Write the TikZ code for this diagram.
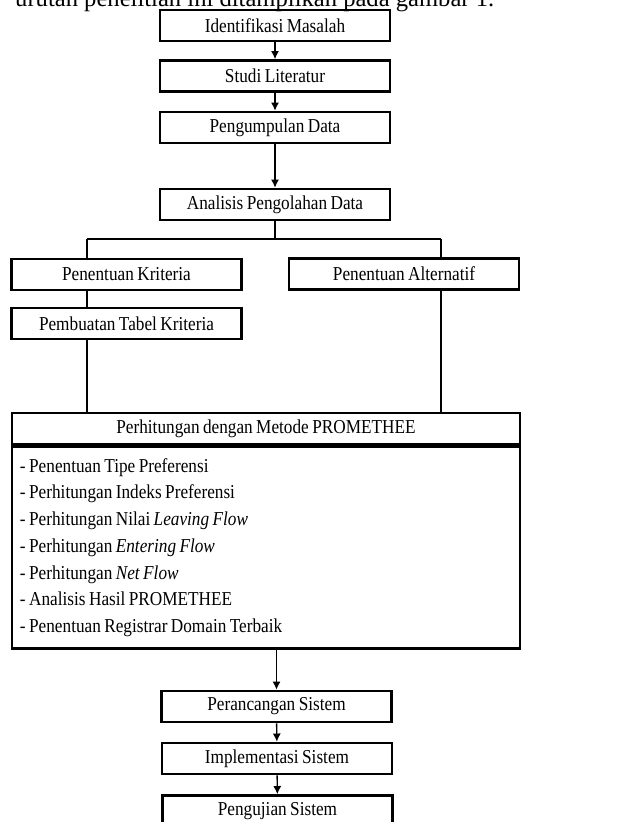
\documentclass[tikz,border=0pt]{standalone}
\usepackage{fontspec}
\setmainfont{Liberation Serif}[FakeStretch=0.875, WordSpace=0.8]
\newfontfamily\captfont{Liberation Serif}
\usetikzlibrary{arrows.meta}
\tikzset{
    box/.style={draw, line width=2.2pt, minimum width=6.9cm, minimum height=0.93cm,
        inner sep=0pt, font=\fontsize{16.8}{22.8}\selectfont},
    link/.style={line width=1.2pt},
}
\begin{document}
\begin{tikzpicture}[x=0.03cm, y=-0.03cm, >={Latex[length=7pt,width=7pt]}]
        \useasboundingbox (0,0) rectangle (639,822);
        \clip (0,0) rectangle (639,822);
        % caption line cut off by the page
        \node[anchor=base west, inner sep=0pt, font=\captfont\fontsize{21}{25}\selectfont] (intro)
            at (15,7) {urutan penelitian ini ditampilkan pada gambar 1.};
        % main column
        \node[box] (ident) at (275,25.5) {Identifikasi Masalah};
        \node[box] (studi) at (275,76) {Studi Literatur};
        \node[box] (kumpul) at (275,127.5) {Pengumpulan Data};
        \node[box] (analisis) at (275,204.5) {Analisis Pengolahan Data};
        % two branches
        \node[box] (kriteria) at (126.5,274.5) {Penentuan Kriteria};
        \node[box] (alternatif) at (404,274) {Penentuan Alternatif};
        \node[box] (tabel) at (126.5,323.5) {Pembuatan Tabel Kriteria};
        % PROMETHEE block
        \node[box, minimum width=15.24cm] (head) at (266,428.5) {Perhitungan dengan Metode PROMETHEE};
        \node[box, anchor=north west, minimum height=6.06cm, text width=14.76cm,
            inner xsep=0.24cm, align=left] (langkah) at (head.south west) {\spaceskip=0pt
            - Penentuan Tipe Preferensi\\
            - Perhitungan Indeks Preferensi\\
            - Perhitungan Nilai \textit{Leaving Flow}\\
            - Perhitungan \textit{Entering Flow}\\
            - Perhitungan \textit{Net Flow}\\
            - Analisis Hasil PROMETHEE\\
            - Penentuan Registrar Domain Terbaik};
        % system steps
        \node[box] (rancang) at (276.5,706.5) {Perancangan Sistem};
        \node[box] (implementasi) at (277,758.5) {Implementasi Sistem};
        \node[box] (uji) at (277.5,811) {Pengujian Sistem};
        % connectors
        \coordinate (kiri) at (87,239);
        \coordinate (kanan) at (441,239);
        \draw[link,->] (ident) -- (studi);
        \draw[link,->] (studi) -- (kumpul);
        \draw[link,->] (kumpul) -- (analisis);
        \draw[link] (analisis.south) -- (analisis.south |- kiri);
        \draw[link] (kiri) -- (kanan);
        \draw[link] (kiri) -- (kiri |- kriteria.north);
        \draw[link] (kiri |- kriteria.south) -- (kiri |- tabel.north);
        \draw[link] (kiri |- tabel.south) -- (kiri |- head.north);
        \draw[link] (kanan) -- (kanan |- alternatif.north);
        \draw[link] (kanan |- alternatif.south) -- (kanan |- head.north);
        \draw[link,->] (langkah.south -| rancang) -- (rancang);
        \draw[link,->] (rancang) -- (implementasi);
        \draw[link,->] (implementasi) -- (uji);
    \end{tikzpicture}
\end{document}
